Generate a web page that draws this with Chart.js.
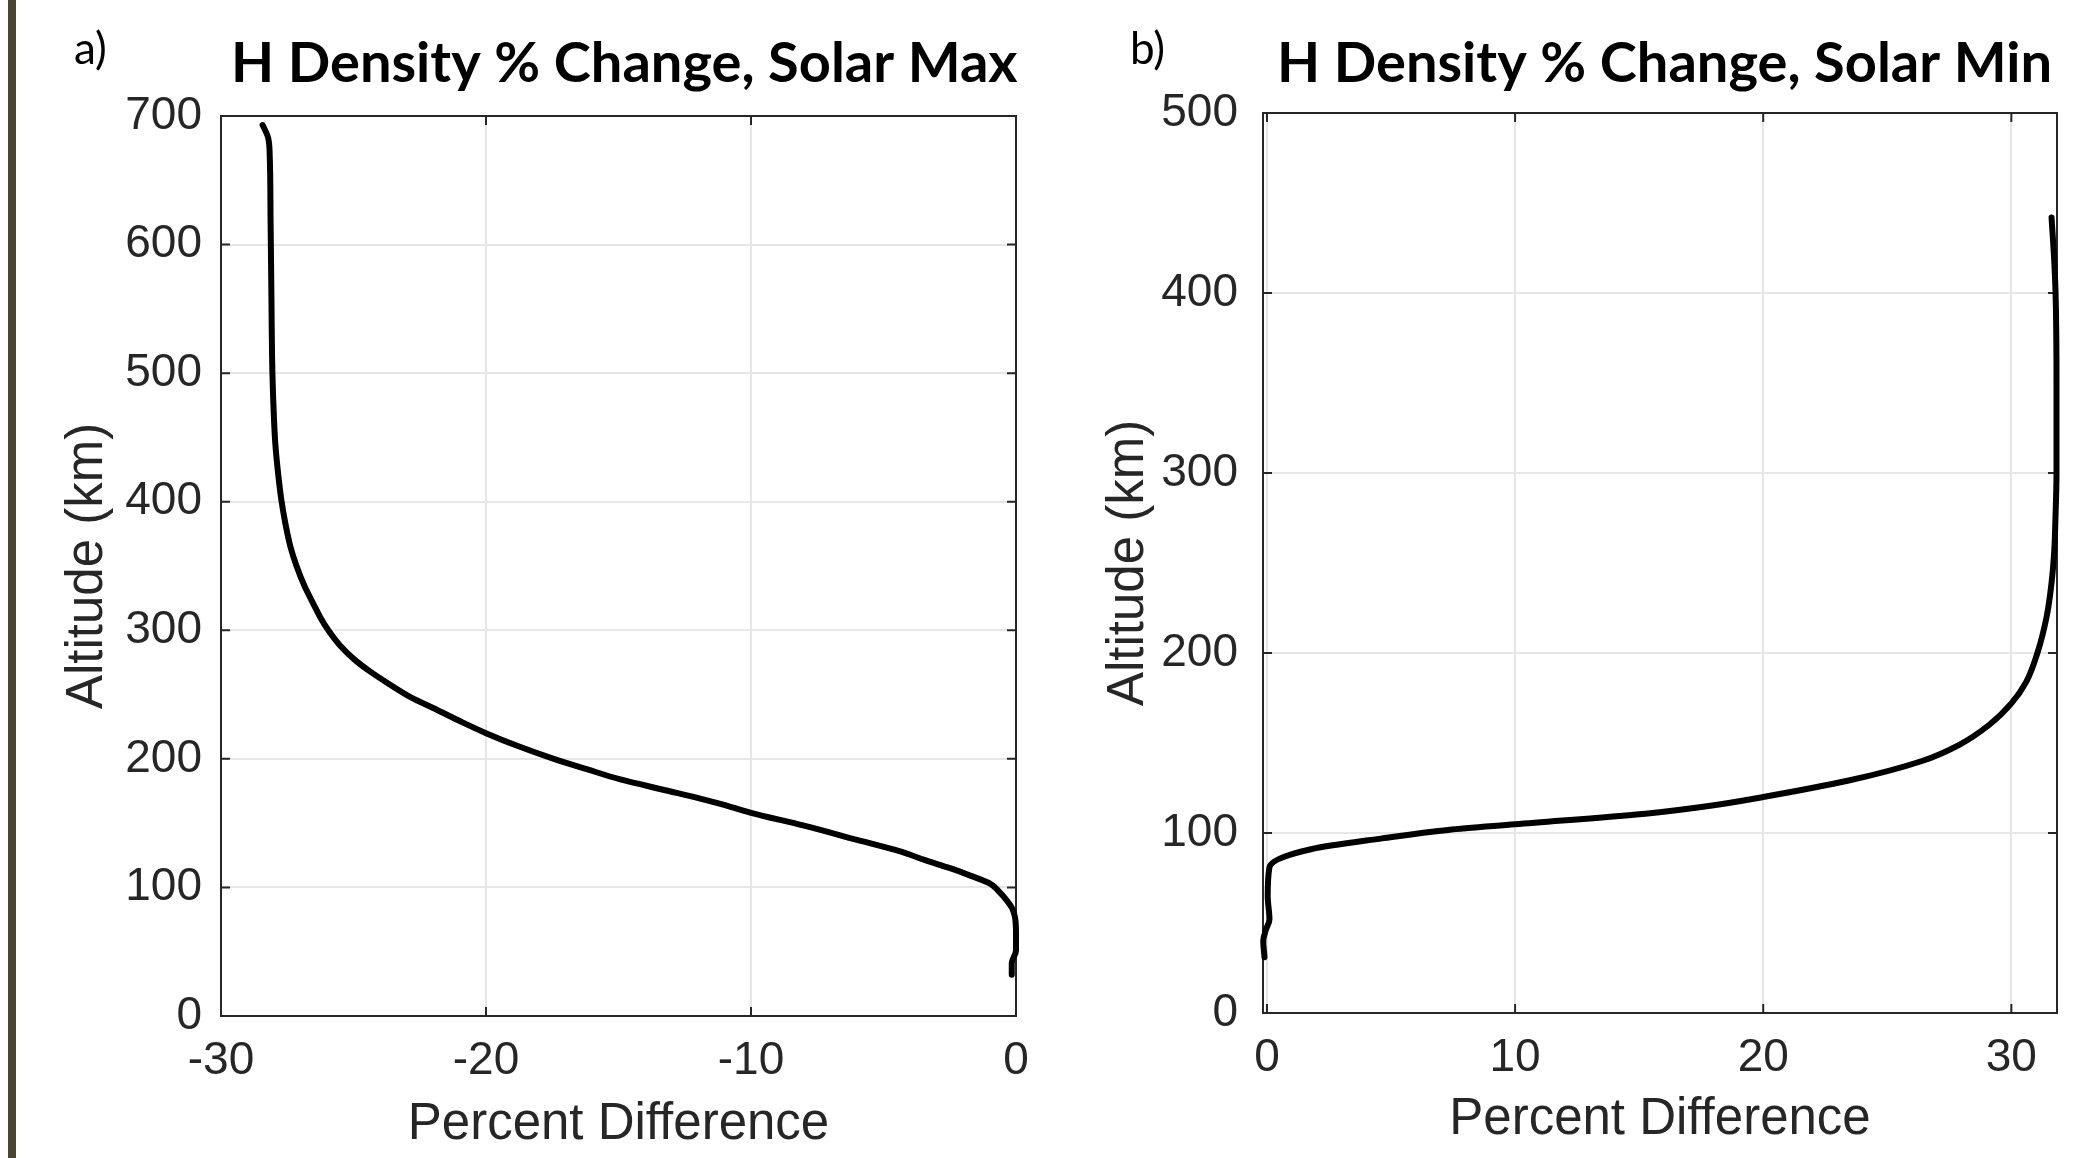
<!DOCTYPE html>
<html><head><meta charset="utf-8">
<script src="https://cdn.jsdelivr.net/npm/chart.js@4.4.1/dist/chart.umd.min.js"></script>
<style>
html,body{margin:0;padding:0;background:#fff;}
body{width:2091px;height:1158px;position:relative;overflow:hidden;}
#bar{position:absolute;left:8px;top:0;width:8px;height:1158px;background:#4a4530;}
#ca{position:absolute;left:0;top:0;}
#cb{position:absolute;left:1050px;top:0;}
</style></head><body>
<div id="bar"></div>
<canvas id="ca" width="1050" height="1158" style="width:1050px;height:1158px"></canvas>
<canvas id="cb" width="1041" height="1158" style="width:1041px;height:1158px"></canvas>
<script>
// ---------- data ----------
const titleA = "H Density % Change, Solar Max";
const titleB = "H Density % Change, Solar Min";
const tagA = "a)";
const tagB = "b)";
const xTitle = "Percent Difference";
const yTitle = "Altitude (km)";

// Solar max: altitude (km) and percent difference
const maxAlt = [32, 41, 51, 64, 77, 84, 90, 97, 103, 109, 115, 121, 128, 137, 148, 158, 165, 175, 184, 192, 200, 210, 220, 229, 238, 248, 259, 268, 277, 288, 300, 310, 320, 334, 350, 365, 383, 401, 425, 445, 464, 500, 565, 620, 668, 683, 693];
const maxPct = [-0.16, -0.16, 0.0, 0.0, -0.04, -0.15, -0.35, -0.65, -0.98, -1.7, -2.49, -3.4, -4.37, -6.0, -8.0, -10.0, -11.16, -13.1, -14.93, -16.2, -17.44, -18.8, -20.0, -20.95, -21.84, -22.85, -23.72, -24.38, -24.95, -25.5, -25.95, -26.25, -26.5, -26.84, -27.15, -27.38, -27.57, -27.72, -27.86, -27.95, -28.0, -28.06, -28.1, -28.13, -28.16, -28.22, -28.43];

// Solar min
const minAlt = [31, 40, 46, 52, 65, 81, 91, 97, 101.7, 104.8, 110.7, 115, 120, 129, 140, 149, 160, 172, 184, 200, 220, 239, 257, 276, 300, 350, 401, 420, 442];
const minPct = [-0.1, -0.15, -0.05, 0.1, 0.03, 0.1, 1.77, 4.64, 7.3, 10.0, 15.25, 17.8, 20.0, 23.4, 26.4, 27.9, 29.1, 30.0, 30.6, 31.05, 31.42, 31.62, 31.73, 31.78, 31.82, 31.82, 31.78, 31.72, 31.62];

const xTicksA = [-30, -20, -10, 0];
const yTicksA = [0, 100, 200, 300, 400, 500, 600, 700];
const xTicksB = [0, 10, 20, 30];
const yTicksB = [0, 100, 200, 300, 400, 500];

// ---------- helpers ----------
const FONT = "'Liberation Sans', Arial, Helvetica, sans-serif";
const AXC = '#262626';

const frame = {
  id: 'frame',
  beforeDatasetsDraw(chart) {
    const {ctx, chartArea: a, scales: {x, y}} = chart;
    ctx.save();
    ctx.strokeStyle = AXC; ctx.lineWidth = 2;
    const L = 9;
    ctx.beginPath();
    x.ticks.forEach(t => { const p = x.getPixelForValue(t.value);
      ctx.moveTo(p, a.bottom); ctx.lineTo(p, a.bottom - L);
      ctx.moveTo(p, a.top); ctx.lineTo(p, a.top + L); });
    y.ticks.forEach(t => { const p = y.getPixelForValue(t.value);
      ctx.moveTo(a.left, p); ctx.lineTo(a.left + L, p);
      ctx.moveTo(a.right, p); ctx.lineTo(a.right - L, p); });
    ctx.stroke();
    ctx.strokeRect(a.left, a.top, a.right - a.left, a.bottom - a.top);
    ctx.restore();
  },
  afterDraw(chart, args, o) {
    const ctx = chart.ctx;
    ctx.save();
    ctx.fillStyle = '#000';
    ctx.textBaseline = 'alphabetic';
    ctx.textAlign = 'left';
    ctx.font = "bold 56px Lato, 'Open Sans', sans-serif";
    ctx.fillText(o.title, o.tx, o.ty, o.tw);
    ctx.font = "44px Lato, 'Open Sans', sans-serif";
    ctx.fillText(o.tag, o.gx, o.gy);
    ctx.restore();
  }
};

function makeChart(id, alt, pct, xr, yr, xt, yt, geo) {
  const pts = alt.map((a, i) => ({x: pct[i], y: a}));
  return new Chart(document.getElementById(id), {
    type: 'line',
    data: { datasets: [{
      data: pts, pointRadius: 0, borderColor: '#000', fill: false,
      borderWidth: 6, cubicInterpolationMode: 'monotone',
      borderCapStyle: 'round', borderJoinStyle: 'round',
      clip: false
    }]},
    plugins: [frame],
    options: {
      indexAxis: 'y',
      responsive: false, animation: false, events: [],
      layout: { padding: { top: geo.top, right: geo.right, left: 0, bottom: 0 } },
      plugins: {
        legend: { display: false }, tooltip: { enabled: false },
        frame: geo.frame
      },
      scales: {
        x: {
          type: 'linear', min: xr[0], max: xr[1], position: 'bottom',
          afterBuildTicks: s => { s.ticks = xt.map(v => ({value: v})); },
          afterFit: s => { s.height = geo.xh; },
          grid: { color: '#e6e6e6', lineWidth: 2, drawTicks: false },
          border: { display: false },
          ticks: { color: AXC, font: { family: FONT, size: 46 }, padding: 18, maxRotation: 0,
                   callback: v => String(v) },
          title: { display: true, text: xTitle, color: AXC, font: { family: FONT, size: 51 },
                   padding: { top: 0, bottom: geo.xtp } }
        },
        y: {
          type: 'linear', min: yr[0], max: yr[1], position: 'left', reverse: false,
          afterBuildTicks: s => { s.ticks = yt.map(v => ({value: v})); },
          afterFit: s => { s.width = geo.yw; },
          grid: { color: '#e6e6e6', lineWidth: 2, drawTicks: false },
          border: { display: false },
          ticks: { color: AXC, font: { family: FONT, size: 46 }, padding: geo.ytp,
                   callback: v => String(v) },
          title: { display: true, text: yTitle, color: AXC, font: { family: FONT, size: 51 },
                   padding: { top: geo.ytt, bottom: 0 } }
        }
      }
    }
  });
}

makeChart('ca', maxAlt, maxPct, [-30, 0], [0, 700], xTicksA, yTicksA, {
  top: 116, right: 34, xh: 142, yw: 221, xtp: 2, ytp: 19, ytt: 57,
  frame: { title: titleA, tx: 231, ty: 82, tw: 789, tag: tagA, gx: 74, gy: 64 }
});
makeChart('cb', minAlt, minPct, [-0.16, 31.84], [0, 500], xTicksB, yTicksB, {
  top: 113, right: 34, xh: 145, yw: 213, xtp: 7, ytp: 25, ytt: 48,
  frame: { title: titleB, tx: 227, ty: 82, tw: 776, tag: tagB, gx: 80, gy: 64 }
});
</script>
</body></html>
